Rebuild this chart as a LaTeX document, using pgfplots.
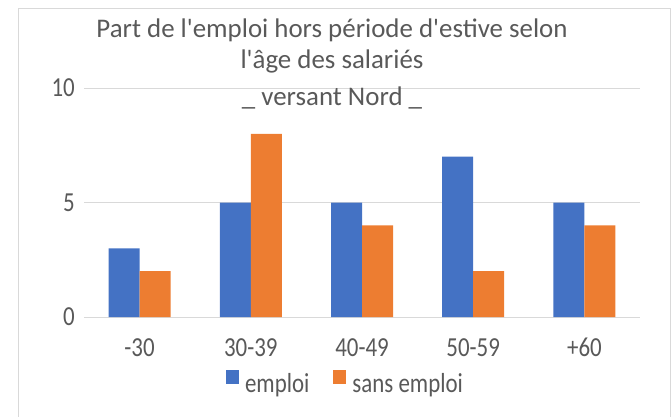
\documentclass[border=0pt]{standalone}
\usepackage{pgfplots}
\pgfplotsset{compat=1.18}
\usepackage{fontspec}
\setmainfont{Carlito}
\usepackage{graphicx}
\definecolor{cblue}{HTML}{4472C4}
\definecolor{corange}{HTML}{ED7D31}
\definecolor{gridc}{HTML}{D9D9D9}
\definecolor{txt}{HTML}{595959}
\newcommand\vs[1]{\scalebox{1}[1.2]{#1}}
\newcommand\fs{\fontsize{23}{23}\selectfont}
\newcommand\fl{\fontsize{23}{23}\selectfont}
\newcommand\ft{\fontsize{27}{27}\selectfont}
\newcommand\q{\textquotesingle}
\begin{document}
\begin{tikzpicture}[x=1bp,y=1bp]
\useasboundingbox (-84,-99) rectangle (587,317);
\draw[gridc, line width=1bp] (-65,-110) -- (-65,309) -- (586,309) -- (586,-110);
\begin{axis}[
  at={(0,0)}, anchor=south west,
  scale only axis, width=556bp, height=229bp,
  xmin=-0.5, xmax=4.5, ymin=0, ymax=10,
  ybar=0pt, bar width=31bp,
  xtick={0,1,2,3,4},
  xticklabels={\vs{-30},\vs{30-39},\vs{40-49},\vs{50-59},\vs{+60}},
  ytick={0,5,10},
  yticklabel={\vs{\pgfmathprintnumber{\tick}}},
  /pgf/number format/assume math mode=true,
  ymajorgrids, grid style={gridc, line width=1bp},
  axis line style={draw=none}, major tick length=0pt,
  tick label style={font=\fs, text=txt},
  xticklabel style={anchor=north, inner sep=0pt, yshift=-21bp},
  yticklabel style={anchor=east, inner sep=0pt, xshift=-9bp},
  legend columns=2,
  legend cell align=left,
  legend image code/.code={\fill[#1] (0bp,0bp) rectangle (12.5bp,13.5bp);},
  legend style={at={(0.4685,-0.2838)}, anchor=center, draw=none, fill=none,
    font=\fl, text=txt, nodes={inner sep=0pt},
    /tikz/every odd column/.append style={column sep=6.5bp},
    /tikz/every even column/.append style={column sep=24bp}},
]
\addplot[fill=cblue, draw=none] coordinates {(0,3) (1,5) (2,5) (3,7) (4,5)};
\addplot[fill=corange, draw=none] coordinates {(0,2) (1,8) (2,4) (3,2) (4,4)};
\legend{\vs{emploi},\vs{sans emploi}}
\end{axis}
\node[anchor=base, text=txt, font=\ft] at (248,280) {Part de l\q emploi hors période d\q estive selon};
\node[anchor=base, text=txt, font=\ft] at (248,249) {l\q âge des salariés};
\node[anchor=base, text=txt, font=\ft] at (248,212) {\_ versant Nord \_};
\end{tikzpicture}
\end{document}
